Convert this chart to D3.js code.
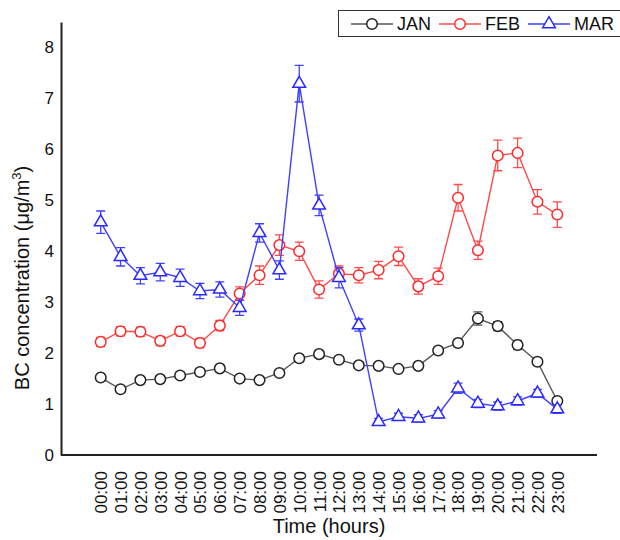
<!DOCTYPE html>
<html>
<head>
<meta charset="utf-8">
<script src="https://cdn.jsdelivr.net/npm/d3@7"></script>
<style>
  body { margin: 0; background: #fff; }
  svg { font-family: "Liberation Sans", Arial, sans-serif; }
</style>
</head>
<body>
<svg id="chart" width="620" height="540"></svg>
<script>
// hours of the day
const hours = ["00:00","01:00","02:00","03:00","04:00","05:00","06:00","07:00","08:00","09:00","10:00","11:00",
               "12:00","13:00","14:00","15:00","16:00","17:00","18:00","19:00","20:00","21:00","22:00","23:00"];

// BC concentration per month (mean and error)
const jan = [1.52,1.29,1.47,1.49,1.56,1.63,1.70,1.50,1.47,1.61,1.90,1.98,1.87,1.76,1.75,1.69,1.75,2.05,2.20,2.68,2.53,2.16,1.83,1.06];
const janErr = [0.06,0.06,0.06,0.06,0.06,0.06,0.06,0.06,0.05,0.06,0.07,0.07,0.06,0.06,0.06,0.06,0.06,0.07,0.07,0.13,0.09,0.09,0.07,0.06];
const feb = [2.22,2.43,2.42,2.24,2.43,2.20,2.54,3.17,3.53,4.12,4.00,3.25,3.56,3.53,3.63,3.90,3.31,3.51,5.05,4.02,5.88,5.93,4.97,4.72];
const febErr = [0.09,0.09,0.09,0.09,0.09,0.09,0.10,0.13,0.18,0.20,0.18,0.17,0.15,0.15,0.17,0.18,0.15,0.16,0.26,0.18,0.30,0.29,0.24,0.25];
const mar = [4.57,3.89,3.52,3.59,3.48,3.22,3.25,2.89,4.36,3.63,7.29,4.90,3.48,2.55,0.65,0.75,0.72,0.80,1.31,1.01,0.96,1.06,1.21,0.90];
const marErr = [0.22,0.18,0.16,0.17,0.17,0.15,0.15,0.15,0.18,0.18,0.36,0.20,0.20,0.12,0.07,0.07,0.07,0.07,0.10,0.08,0.08,0.08,0.08,0.08];

const yTicks = [0,1,2,3,4,5,6,7,8];

const series = [
  { name: "JAN", values: jan, err: janErr, line: "#555555", mark: "#222222", shape: "circle" },
  { name: "FEB", values: feb, err: febErr, line: "#ff4a4a", mark: "#ff2a2a", shape: "circle" },
  { name: "MAR", values: mar, err: marErr, line: "#4040ff", mark: "#2a2aff", shape: "triangle" }
];

const svg = d3.select("#chart");
const plotLeft = 61, plotRight = 597, plotTop = 22, plotBottom = 455;

const x = d3.scalePoint().domain(hours).range([plotLeft, plotRight]).padding(2);
const y = d3.scaleLinear().domain([0, 8.5]).range([plotBottom, plotTop]);

// axes
const yAxis = svg.append("g")
  .attr("transform", `translate(${plotLeft},0)`)
  .call(d3.axisLeft(y).tickValues(yTicks).tickSize(0).tickPadding(7).tickFormat(d3.format("d")));
yAxis.select(".domain").attr("stroke", "#222").attr("stroke-width", 2);
yAxis.selectAll("text").attr("font-size", 17).attr("fill", "#111");

const xAxis = svg.append("g")
  .attr("transform", `translate(0,${plotBottom})`)
  .call(d3.axisBottom(x).tickSize(0).tickPadding(0));
xAxis.select(".domain").attr("stroke", "#222").attr("stroke-width", 2)
  .attr("d", `M${plotLeft},0H${plotRight}`);
xAxis.selectAll("text")
  .attr("font-size", 17).attr("fill", "#111")
  .attr("transform", "rotate(-90)")
  .attr("text-anchor", "end")
  .attr("x", -16).attr("y", 0).attr("dy", "0.35em");

// axis titles
svg.append("text")
  .attr("x", (plotLeft + plotRight) / 2).attr("y", 533)
  .attr("text-anchor", "middle").attr("font-size", 20).attr("fill", "#111")
  .text("Time (hours)");

const yTitle = svg.append("text")
  .attr("transform", "translate(29,278) rotate(-90)")
  .attr("text-anchor", "middle").attr("font-size", 20).attr("fill", "#111");
yTitle.append("tspan").text("BC concentration (μg/m");
yTitle.append("tspan").attr("font-size", 13).attr("dy", -8).text("3");
yTitle.append("tspan").attr("dy", 8).text(")");

const triangle = d3.symbol().type(d3.symbolTriangle).size(70);

function drawMarker(g, shape, color) {
  if (shape === "circle") {
    g.append("circle").attr("r", 5.3).attr("fill", "#fff").attr("stroke", color).attr("stroke-width", 1.5);
  } else {
    g.append("path").attr("d", triangle()).attr("fill", "#fff").attr("stroke", color).attr("stroke-width", 1.5);
  }
}

const line = d3.line().x((d, i) => x(hours[i])).y(d => y(d));

series.forEach(s => {
  const g = svg.append("g");
  g.append("path").datum(s.values)
    .attr("d", line).attr("fill", "none")
    .attr("stroke", s.line).attr("stroke-width", 1.4);

  const eb = g.selectAll(".eb").data(s.values).enter().append("g");
  eb.append("path")
    .attr("d", (d, i) => {
      const cx = x(hours[i]), y1 = y(d + s.err[i]), y2 = y(d - s.err[i]);
      return `M${cx},${y1}V${y2}M${cx - 4.5},${y1}H${cx + 4.5}M${cx - 4.5},${y2}H${cx + 4.5}`;
    })
    .attr("fill", "none").attr("stroke", s.line).attr("stroke-width", 1.3);

  g.selectAll(".mk").data(s.values).enter().append("g")
    .attr("transform", (d, i) => `translate(${x(hours[i])},${y(d)})`)
    .each(function() { drawMarker(d3.select(this), s.shape, s.mark); });
});

// legend
const legend = svg.append("g");
legend.append("rect")
  .attr("x", 338.5).attr("y", 10.5).attr("width", 290).attr("height", 26)
  .attr("fill", "#fff").attr("stroke", "#333").attr("stroke-width", 1);

const legendX = [351, 439, 528];
series.forEach((s, i) => {
  const lx = legendX[i];
  const item = legend.append("g").attr("transform", `translate(${lx},24)`);
  item.append("line").attr("x1", 0).attr("x2", 42).attr("y1", 0).attr("y2", 0)
    .attr("stroke", s.line).attr("stroke-width", 1.4);
  const m = item.append("g").attr("transform", "translate(21,0)");
  drawMarker(m, s.shape, s.mark);
  item.append("text").attr("x", 46).attr("y", 0).attr("dy", "0.36em")
    .attr("font-size", 18).attr("fill", "#111").text(s.name);
});
</script>
</body>
</html>
